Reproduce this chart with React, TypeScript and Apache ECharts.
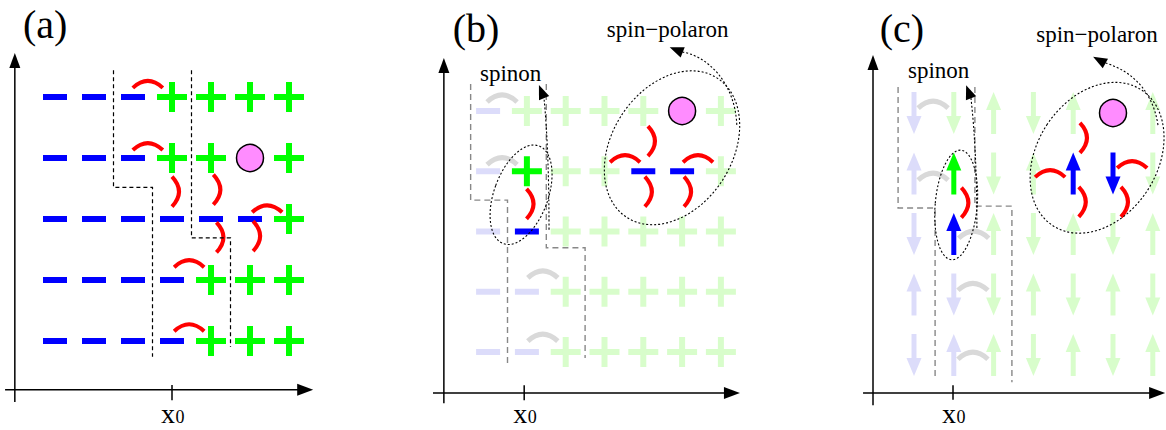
import React, { useEffect, useRef } from "react";
import * as echarts from "echarts";

// ---------------- data ----------------
// lattice rows, top to bottom, 7 columns each
// '-' minus site, '+' plus site, 'o' hole
const rowsA = ["---++++", "---++o+", "------+", "----+++", "----+++"];
const rowsB = ["-++++o+", "-+++--+", "--+++++", "--+++++", "--+++++"];
// sites drawn in full colour in panel (b) (the others are faded)
const brightB = ["0000000", "0100110", "0100000", "0000000", "0000000"];
// panel (c): spin directions, 'u' up, 'd' down, 'o' hole; colour family follows rowsB
const spinsC = ["dduduou", "uuduudd", "duududu", "uddudud", "duududu"];
const brightC = ["0000000", "0100110", "0100000", "0000000", "0000000"];

// bond arcs: [column, height, 0 = arc over a horizontal bond, 1 = arc beside a vertical bond]
const redArcsA = [
  [3.38, 5.15, 0], [3.38, 4.13, 0], [4.0, 3.45, 1], [5.06, 3.48, 1], [6.44, 3.11, 0],
  [5.14, 2.7, 1], [6.08, 2.72, 1], [4.44, 2.21, 0], [4.44, 1.16, 0],
];
const grayArcsB = [[1.36, 5.15, 0], [1.36, 4.11, 0], [2.41, 2.23, 0], [2.41, 1.18, 0]];
const redArcsB = [
  [1.99, 3.46, 1], [5.12, 4.5, 1], [4.53, 4.15, 0], [6.41, 4.15, 0], [5.04, 3.66, 1], [6.05, 3.66, 1],
];
const grayArcsC = [[1.48, 5.08, 0], [1.48, 3.89, 0], [2.5, 2.93, 0], [2.48, 2.07, 0], [2.48, 0.93, 0]];
const redArcsC = [
  [2.19, 3.52, 1], [5.17, 4.59, 1], [4.42, 3.94, 0], [6.48, 4.09, 0], [5.14, 3.53, 1], [6.2, 3.53, 1],
];

// domain walls (dashed step lines), in lattice units
const wallsA = [
  [[2.5, 5.44], [2.5, 3.52], [3.5, 3.52], [3.5, 0.74]],
  [[4.5, 5.44], [4.5, 2.69], [5.5, 2.69], [5.5, 0.9]],
];
const wallsB = [
  [[0.55, 5.45], [0.55, 3.52], [1.5, 3.52], [1.5, 0.75]],
  [[2.5, 5.45], [2.5, 2.73], [3.5, 2.73], [3.5, 0.9]],
];
const wallsC = [
  [[0.6, 5.43], [0.6, 3.43], [1.53, 3.43], [1.53, 0.64]],
  [[2.53, 5.43], [2.53, 3.46], [3.46, 3.46], [3.46, 0.55]],
];

const panelLabels = ["(a)", "(b)", "(c)"];
const x0Ticks = [4, 1.93, 1.98];
const spinonLabel = "spinon";
const polaronLabel = "spin\u2212polaron";

// ---------------- styles / layout ----------------
const FONT = '"Liberation Serif", "Times New Roman", "DejaVu Serif", serif';
const BLUE = "#0000ff";
const GREEN = "#00ff00";
const RED = "#ff0000";
const BLUE_FADED = "#dcdcfa";
const GREEN_FADED = "#d8fdcb";
const GRAY_ARC = "#d9d9d9";
const HOLE = "#ff8cff";

const layout = [
  {
    grid: { left: 0.4, top: 5.5, width: 347.1, height: 420.9 },
    xr: [-0.4, 8.5], yr: [-0.4, 6.5],
    yAxisLine: [[-0.03, 0], [-0.03, 5.72]],
    xAxisLine: [[-0.28, 0.2], [7.62, 0.2]],
    tick: [0.28, 0.03], x0Base: -0.34, label: [0.18, 5.97],
    spinon: null as null | number[], polaron: null as null | number[],
    ellipses: [] as any[], pointers: [] as any[],
    wallColor: "#000", wallDash: [4, 3], wallWidth: 1.2,
  },
  {
    grid: { left: 410.5, top: 20.625, width: 368.6, height: 403.675 },
    xr: [-1, 8.5], yr: [-0.2, 6.5],
    yAxisLine: [[-0.14, 0.15], [-0.14, 5.88]],
    xAxisLine: [[-0.42, 0.32], [7.49, 0.32]],
    tick: [0.45, 0.2], x0Base: -0.18, label: [0.09, 6.15],
    spinon: [0.79, 5.5], polaron: [4.06, 6.23],
    ellipses: [
      { c: [1.85, 3.61], rx: 27, ry: 52, rot: -20 },
      { c: [5.74, 4.39], rx: 60, ry: 83, rot: -33 },
    ],
    pointers: [
      { from: [2.57, 3.03], c1: [2.57, 4.35], to: [2.44, 5.22], tip: [2.31, 5.43] },
      { from: [7.41, 4.77], c1: [7.36, 5.51], c2: [6.59, 5.93], to: [5.99, 5.98], tip: [5.68, 6.06] },
    ],
    wallColor: "#888", wallDash: [6, 4], wallWidth: 1.4,
  },
  {
    grid: { left: 834.4, top: 22.25, width: 330.34, height: 405.35 },
    xr: [-1, 7.3], yr: [-0.2, 6.5],
    yAxisLine: [[-0.03, 0.17], [-0.03, 5.96]],
    xAxisLine: [[-0.28, 0.37], [7.31, 0.37]],
    tick: [0.5, 0.26], x0Base: -0.125, label: [0.14, 6.17],
    spinon: [0.85, 5.58], polaron: [4.07, 6.17],
    ellipses: [
      { c: [2.06, 3.48], rx: 21, ry: 55, rot: -5 },
      { c: [5.6, 4.26], rx: 60, ry: 81, rot: -33 },
    ],
    pointers: [
      { from: [2.58, 3.1], c1: [2.58, 4.39], to: [2.43, 5.25], tip: [2.31, 5.46] },
      { from: [7.13, 4.8], c1: [6.98, 5.46], c2: [6.3, 5.74], to: [5.75, 5.84], tip: [5.5, 5.93] },
    ],
    wallColor: "#888", wallDash: [6, 4], wallWidth: 1.4,
  },
];

type Cell = { ch: string; bright: boolean; blue: boolean };

function buildCells(rows: string[], family: string[], bright: string[] | null) {
  const info: Cell[] = [];
  const data: number[][] = [];
  rows.forEach((row, r) => {
    row.split("").forEach((ch, c) => {
      info.push({ ch, bright: bright ? bright[r][c] === "1" : true, blue: family[r][c] === "-" });
      data.push([c + 1, 5 - r]);
    });
  });
  return { info, data };
}

function cellElements(cell: Cell, x: number, y: number): any[] {
  const color = cell.blue ? (cell.bright ? BLUE : BLUE_FADED) : cell.bright ? GREEN : GREEN_FADED;
  const ch = cell.ch;
  if (ch === "o") {
    return [{ type: "circle", shape: { cx: x, cy: y, r: 13.5 }, style: { fill: HOLE, stroke: "#000", lineWidth: 1.5 } }];
  }
  if (ch === "-") {
    return [{ type: "rect", shape: { x: x - 12, y: y - 3, width: 24, height: 6 }, style: { fill: color } }];
  }
  if (ch === "+") {
    return [
      { type: "rect", shape: { x: x - 15, y: y - 3, width: 30, height: 6 }, style: { fill: color } },
      { type: "rect", shape: { x: x - 3, y: y - 15, width: 6, height: 30 }, style: { fill: color } },
    ];
  }
  const up = ch === "u";
  const s = up ? -1 : 1;
  const tipY = y + s * 21;
  const baseY = y + s * 3;
  return [
    { type: "polygon", shape: { points: [[x, tipY], [x - 7.5, baseY], [x + 7.5, baseY]] }, style: { fill: color } },
    { type: "rect", shape: { x: x - 2.5, y: up ? y - 4 : y - 21, width: 5, height: 25 }, style: { fill: color } },
  ];
}

function cellSeries(k: number, rows: string[], family: string[], bright: string[] | null) {
  const { info, data } = buildCells(rows, family, bright);
  return {
    type: "custom", coordinateSystem: "cartesian2d", xAxisIndex: k, yAxisIndex: k, z: 3, silent: true,
    data,
    renderItem: (params: any, api: any) => {
      const p = api.coord([api.value(0), api.value(1)]);
      return { type: "group", children: cellElements(info[params.dataIndex], p[0], p[1]) };
    },
  };
}

function arcSeries(k: number, arcs: number[][], color: string, width: number) {
  return {
    type: "custom", coordinateSystem: "cartesian2d", xAxisIndex: k, yAxisIndex: k, z: 4, silent: true,
    data: arcs,
    renderItem: (params: any, api: any) => {
      const [x, y] = api.coord([api.value(0), api.value(1)]);
      const vert = api.value(2) === 1;
      const shape = vert
        ? { x1: x, y1: y - 15, x2: x, y2: y + 15, cpx1: x + 14, cpy1: y }
        : { x1: x - 15, y1: y, x2: x + 15, y2: y, cpx1: x, cpy1: y - 14 };
      return { type: "bezierCurve", shape, style: { stroke: color, lineWidth: width, fill: null } };
    },
  };
}

function head(tip: number[], from: number[], len: number, half: number) {
  const dx = tip[0] - from[0];
  const dy = tip[1] - from[1];
  const d = Math.hypot(dx, dy) || 1;
  const ux = dx / d, uy = dy / d;
  const bx = tip[0] - ux * len, by = tip[1] - uy * len;
  return {
    type: "polygon",
    shape: { points: [tip, [bx - uy * half, by + ux * half], [bx + uy * half, by - ux * half]] },
    style: { fill: "#000" },
  };
}

function text(str: string, p: number[], fs: number) {
  return {
    type: "text", x: p[0], y: p[1] - 0.34 * fs,
    style: { text: str, fill: "#000", fontSize: fs, fontFamily: FONT, align: "left", verticalAlign: "middle" },
  };
}

function overlaySeries(k: number, walls: number[][][]) {
  const L = layout[k];
  return {
    type: "custom", coordinateSystem: "cartesian2d", xAxisIndex: k, yAxisIndex: k, z: 5, silent: true,
    data: [[0, 0]],
    renderItem: (params: any, api: any) => {
      const P = (q: number[]) => api.coord(q);
      const els: any[] = [];
      // domain walls
      walls.forEach((w) => {
        els.push({
          type: "polyline", shape: { points: w.map(P) },
          style: { stroke: L.wallColor, lineWidth: L.wallWidth, lineDash: L.wallDash, fill: null },
        });
      });
      // axes
      const ya = L.yAxisLine.map(P);
      const xa = L.xAxisLine.map(P);
      els.push({ type: "line", shape: { x1: ya[0][0], y1: ya[0][1], x2: ya[1][0], y2: ya[1][1] + 6 }, style: { stroke: "#000", lineWidth: 1.5 } });
      els.push(head(ya[1], ya[0], 15, 5.5));
      els.push({ type: "line", shape: { x1: xa[0][0], y1: xa[0][1], x2: xa[1][0] - 6, y2: xa[1][1] }, style: { stroke: "#000", lineWidth: 1.5 } });
      els.push(head(xa[1], xa[0], 16, 6));
      const t0 = P([x0Ticks[k], L.tick[0]]);
      const t1 = P([x0Ticks[k], L.tick[1]]);
      els.push({ type: "line", shape: { x1: t0[0], y1: t0[1], x2: t1[0], y2: t1[1] }, style: { stroke: "#000", lineWidth: 1.5 } });
      const b = P([x0Ticks[k], L.x0Base]);
      els.push(text("x", [b[0] - 11, b[1]], 28));
      els.push(text("0", [b[0] + 3.5, b[1]], 18));
      // panel label
      els.push(text(panelLabels[k], P(L.label), 40));
      if (L.spinon) els.push(text(spinonLabel, P(L.spinon), 23));
      if (L.polaron) els.push(text(polaronLabel, P(L.polaron), 23));
      // ellipses
      L.ellipses.forEach((e: any) => {
        const c = P(e.c);
        els.push({
          type: "ellipse", x: c[0], y: c[1], rotation: (e.rot * Math.PI) / 180,
          shape: { cx: 0, cy: 0, rx: e.rx, ry: e.ry },
          style: { fill: null, stroke: "#000", lineWidth: 1.1, lineDash: [2, 2] },
        });
      });
      // pointers
      L.pointers.forEach((pt: any) => {
        const f = P(pt.from), c1 = P(pt.c1), to = P(pt.to), tip = P(pt.tip);
        const shape: any = { x1: f[0], y1: f[1], x2: to[0], y2: to[1], cpx1: c1[0], cpy1: c1[1] };
        if (pt.c2) {
          const c2 = P(pt.c2);
          shape.cpx2 = c2[0];
          shape.cpy2 = c2[1];
        }
        els.push({ type: "bezierCurve", shape, style: { stroke: "#000", lineWidth: 1.1, lineDash: [2, 2], fill: null } });
        els.push(head(tip, to, 14, 5.5));
      });
      return { type: "group", children: els };
    },
  };
}

export default function App() {
  const ref = useRef<HTMLDivElement>(null);
  useEffect(() => {
    if (!ref.current) return;
    const chart = echarts.init(ref.current, null, { renderer: "svg" });
    const option: any = {
      animation: false,
      backgroundColor: "#ffffff",
      grid: layout.map((L) => ({ ...L.grid, containLabel: false })),
      xAxis: layout.map((L, k) => ({ type: "value", gridIndex: k, min: L.xr[0], max: L.xr[1], show: false })),
      yAxis: layout.map((L, k) => ({ type: "value", gridIndex: k, min: L.yr[0], max: L.yr[1], show: false })),
      series: [
        cellSeries(0, rowsA, rowsA, null),
        arcSeries(0, redArcsA, RED, 4),
        overlaySeries(0, wallsA),
        cellSeries(1, rowsB, rowsB, brightB),
        arcSeries(1, grayArcsB, GRAY_ARC, 5),
        arcSeries(1, redArcsB, RED, 4),
        overlaySeries(1, wallsB),
        cellSeries(2, spinsC, rowsB, brightC),
        arcSeries(2, grayArcsC, GRAY_ARC, 5),
        arcSeries(2, redArcsC, RED, 4),
        overlaySeries(2, wallsC),
      ],
    };
    chart.setOption(option);
    return () => chart.dispose();
  }, []);
  return (
    <div
      ref={ref}
      style={{ position: "absolute", left: 0, top: 0, width: 1166, height: 430, background: "#fff" }}
    />
  );
}
